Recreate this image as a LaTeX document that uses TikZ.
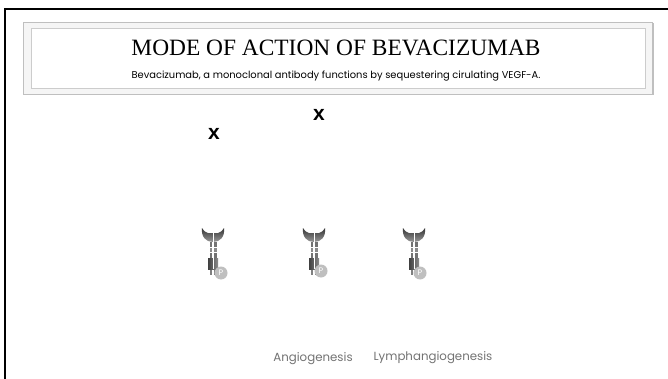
\documentclass[tikz,border=0pt]{standalone}
\usepackage{fontspec}
\setmainfont{Liberation Serif}
\newfontfamily\gothic{Poppins}
\newfontfamily\arialb{Liberation Sans}
\usetikzlibrary{positioning}

\tikzset{
  slidetitle/.style={font=\fontsize{23.4}{25}\selectfont},
  slidesub/.style={font=\gothic\fontsize{9.9}{11}\selectfont},
  crossmark/.style={font=\arialb\bfseries\fontsize{21}{22}\selectfont},
  glabel/.style={font=\gothic\fontsize{11.8}{13}\selectfont,text=black!55},
  pdot/.style={circle,fill=black!25,inner sep=0pt,minimum size=13pt,
    text=white,font=\gothic\fontsize{8}{9}\selectfont},
  receptor/.pic={
    % ligand cup
    \shade[top color=black!80,bottom color=black!40]
      (-11,0) .. controls (-12,9) and (-7,14) .. (0,14)
      .. controls (7,14) and (12,9) .. (11,0)
      .. controls (9,3) and (7,5) .. (5,5) -- (-5,5)
      .. controls (-7,5) and (-9,3) .. cycle;
    \draw[white,line width=.6pt] (0,5) -- (0,14);
    % stalk
    \foreach \s in {-1,1}{
      \fill[black!55] (\s*1,14) rectangle (\s*3.5,19);
      \fill[black!45] (\s*1,20) rectangle (\s*3.5,24);
      \fill[black!55] (\s*1,25) rectangle (\s*3.5,30);
    }
    % kinase block
    \shade[left color=black!75,right color=black!45] (-5,30) rectangle (5,41);
    \draw[white,line width=.6pt] (0,30) -- (0,41);
    \foreach \s in {-1,1}{
      \fill[black!50] (\s*1,42) rectangle (\s*3,47);
    }
  }
}

\begin{document}
\begin{tikzpicture}[x=1pt,y=-1pt]
\useasboundingbox (0,0) rectangle (668,379);
\fill[white] (0,0) rectangle (668,379);
% slide frame
\draw[line width=2pt] (5,379) -- (5,9) -- (668,9);
% title box
\fill[black!25] (24.5,23.5) rectangle (653.5,95.5);
\fill[black!4] (23,22) rectangle (652,94);
\draw[black!25,line width=.6pt] (23,22) rectangle (652,94);
\draw[black!20,line width=.6pt,fill=white] (31,28) rectangle (645,88);
\node[slidetitle] (title) at (336,48) {MODE OF ACTION OF BEVACIZUMAB};
\node[slidesub] (subtitle) at (336,76) {Bevacizumab, a monoclonal antibody functions by sequestering cirulating VEGF-A.};
% blocked binding
\node[crossmark] (xleft) at (214,134) {x};
\node[crossmark] (xright) at (319,115) {x};
% receptors
\pic at (213,228) {receptor};
\pic at (314,228) {receptor};
\pic at (414,228) {receptor};
\node[pdot] (p1) at (221,273) {P};
\node[pdot] (p2) at (321,271) {P};
\node[pdot] (p3) at (420,273) {P};
\node[glabel] (angio) at (313,359) {Angiogenesis};
\node[glabel] (lymph) at (433,358) {Lymphangiogenesis};
\end{tikzpicture}
\end{document}
